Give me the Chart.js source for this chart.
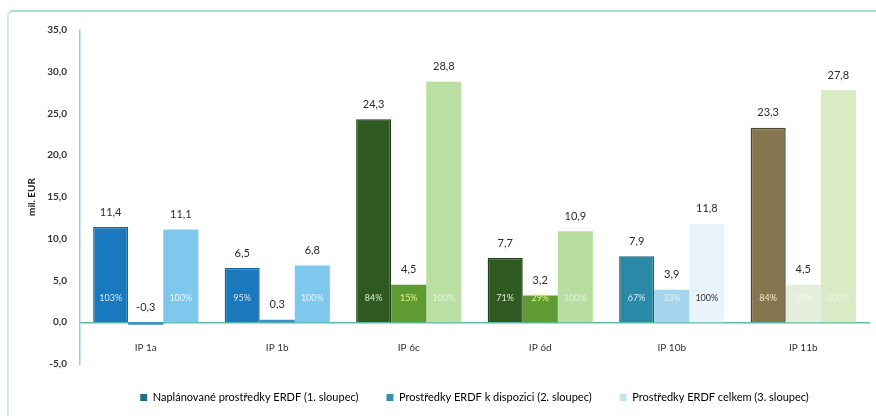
<!DOCTYPE html>
<html><head><meta charset="utf-8">
<script src="https://cdn.jsdelivr.net/npm/chart.js@4.4.1/dist/chart.umd.min.js"></script>
<style>
html,body{margin:0;padding:0;background:#fff;}
#wrap{position:relative;width:876px;height:416px;overflow:hidden;}
#frame{position:absolute;left:7px;top:10px;width:880px;height:420px;border-top:2px solid #a6dcd3;border-left:2px solid #d3e9ef;border-top-left-radius:6px;pointer-events:none;}
canvas{position:absolute;left:0;top:0;}
</style></head><body>
<div id="wrap"><canvas id="c" width="876" height="416"></canvas><div id="frame"></div></div>
<script>
const categories = ['IP 1a', 'IP 1b', 'IP 6c', 'IP 6d', 'IP 10b', 'IP 11b'];
const seriesNames = ['Naplánované prostředky ERDF (1. sloupec)', 'Prostředky ERDF k dispozici (2. sloupec)', 'Prostředky ERDF celkem (3. sloupec)'];
const planned = [11.4, 6.5, 24.3, 7.7, 7.9, 23.3];
const available = [-0.3, 0.3, 4.5, 3.2, 3.9, 4.5];
const total = [11.1, 6.8, 28.8, 10.9, 11.8, 27.8];
const plannedPct = ['103%', '95%', '84%', '71%', '67%', '84%'];
const availablePct = [null, null, '15%', '29%', '33%', '16%'];
const totalPct = ['100%', '100%', '100%', '100%', '100%', '100%'];
const yMin = -5, yMax = 35, yStep = 5;

const plannedColors = ['#1a78bc', '#1a78bc', '#2e5a22', '#2e5a22', '#2a89a6', '#857650'];
const plannedBorders = ['#17659c', '#17659c', '#1f3d16', '#1f3d16', '#1e6277', '#4f452c'];
const availableColors = ['#3a8fc8', '#3a8fc8', '#5f9b33', '#5f9b33', '#a5d4ec', '#e5eedb'];
const totalColors = ['#7ec8ee', '#7ec8ee', '#b9e0a2', '#b7dda0', '#e9f3fa', '#d9eac5'];
const plannedPctColors = ['#d2e9f7', '#d2e9f7', '#dcecc9', '#dcecc9', '#d3e9f0', '#f1ead0'];
const availablePctColors = ['#fff', '#fff', '#e5f08a', '#e5f08a', '#e3f1f8', '#f6f9f1'];
const totalPctColors = ['#eaf6fc', '#eaf6fc', '#e6f4dc', '#e6f4dc', '#333333', '#f0f6e6'];
const legendColors = ['#21708e', '#3a8fae', '#c2e4ea'];

const fmt = v => v.toFixed(1).replace('.', ',');
const FONT = 'Lato, "Open Sans", sans-serif';

const labelPlugin = {
  id: 'barLabels',
  afterDatasetsDraw(chart) {
    const ctx = chart.ctx;
    const zeroY = chart.scales.y.getPixelForValue(0);
    const pcts = [plannedPct, availablePct, totalPct];
    const pctCols = [plannedPctColors, availablePctColors, totalPctColors];
    chart.data.datasets.forEach((ds, di) => {
      const meta = chart.getDatasetMeta(di);
      meta.data.forEach((bar, i) => {
        const v = ds.data[i];
        ctx.save();
        ctx.font = '11px ' + FONT;
        ctx.fillStyle = '#2b2b2b';
        ctx.textAlign = 'center';
        ctx.textBaseline = 'middle';
        const topY = Math.min(bar.y, zeroY);
        ctx.fillText(fmt(v), bar.x, topY - 15);
        const p = pcts[di][i];
        if (p) {
          ctx.font = '9px ' + FONT;
          ctx.fillStyle = pctCols[di][i];
          ctx.fillText(p, bar.x, zeroY - 24);
        }
        ctx.restore();
      });
    });
  }
};

new Chart(document.getElementById('c'), {
  type: 'bar',
  data: {
    labels: categories,
    datasets: [
      { label: seriesNames[0], data: planned, backgroundColor: plannedColors, borderColor: plannedBorders, borderWidth: 1.5 },
      { label: seriesNames[1], data: available, backgroundColor: availableColors, borderWidth: 0 },
      { label: seriesNames[2], data: total, backgroundColor: totalColors, borderWidth: 0 }
    ]
  },
  options: {
    responsive: false,
    devicePixelRatio: 1,
    animation: false,
    layout: { padding: { left: 26, right: 7, top: 30, bottom: 3 } },
    datasets: { bar: { categoryPercentage: 0.8, barPercentage: 1.0 } },
    scales: {
      x: {
        position: { y: 0 },
        grid: { display: false, drawTicks: false },
        border: { display: true, color: '#5fbcaa', width: 1.5 },
        ticks: { font: { family: FONT, size: 10 }, color: '#333', padding: 20 }
      },
      y: {
        min: yMin, max: yMax,
        grid: { display: false, drawTicks: false },
        border: { display: true, color: '#8fd0ea', width: 1.5 },
        ticks: { stepSize: yStep, callback: v => fmt(v), font: { family: FONT, size: 10, weight: 'bold' }, color: '#333', padding: 13 },
        title: { display: true, text: 'mil. EUR', font: { family: FONT, size: 10, weight: 'bold' }, color: '#222', padding: { top: 0, bottom: 6 } },
        afterFit: s => { s.width = 54; }
      }
    },
    plugins: {
      tooltip: { enabled: false },
      legend: {
        position: 'bottom',
        fullSize: false,
        labels: {
          boxWidth: 7, boxHeight: 7, padding: 28,
          font: { family: FONT, size: 11 }, color: '#333',
          generateLabels: () => seriesNames.map((n, i) => ({ text: n, fillStyle: legendColors[i], strokeStyle: legendColors[i], lineWidth: 0, datasetIndex: i, hidden: false }))
        }
      }
    }
  },
  plugins: [labelPlugin]
});
</script>
</body></html>
